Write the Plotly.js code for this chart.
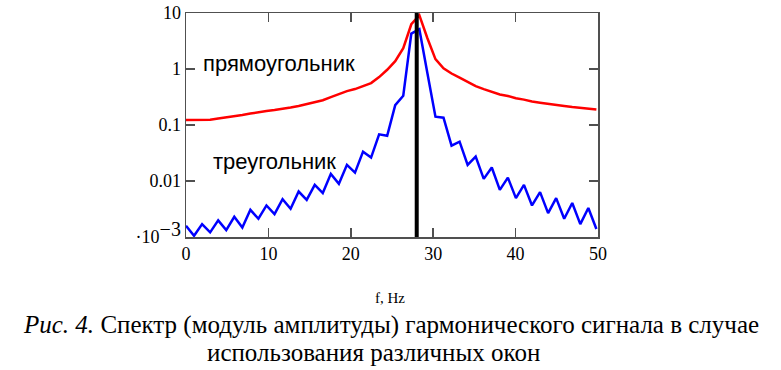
<!DOCTYPE html>
<html>
<head>
<meta charset="utf-8">
<script src="https://cdn.plot.ly/plotly-3.0.1.min.js"></script>
<style>html,body{margin:0;padding:0;background:#fff;}#chart{width:781px;height:370px;}</style>
</head>
<body>
<div id="chart"></div>
<script>
// Frequency bins (Hz)
const freq = [0, 0.977, 1.953, 2.930, 3.906, 4.883, 5.859, 6.836, 7.813, 8.789,
  9.766, 10.742, 11.719, 12.695, 13.672, 14.648, 15.625, 16.602, 17.578, 18.555,
  19.531, 20.508, 21.484, 22.461, 23.438, 24.414, 25.391, 26.367, 27.344, 28.320,
  29.297, 30.273, 31.250, 32.227, 33.203, 34.180, 35.156, 36.133, 37.109, 38.086,
  39.063, 40.039, 41.016, 41.992, 42.969, 43.945, 44.922, 45.898, 46.875, 47.852,
  48.828, 49.805];
// Rectangular window spectrum
const rectAmp = [0.123, 0.123, 0.123, 0.124, 0.131, 0.136, 0.145, 0.151, 0.160, 0.171,
  0.178, 0.185, 0.193, 0.205, 0.218, 0.237, 0.254, 0.277, 0.315, 0.357,
  0.403, 0.438, 0.495, 0.56, 0.716, 0.97, 1.38, 2.35, 6.3, 9.1,
  3.54, 1.5, 1.03, 0.83, 0.70, 0.58, 0.495, 0.438, 0.387, 0.35,
  0.33, 0.30, 0.284, 0.262, 0.25, 0.237, 0.227, 0.218, 0.209, 0.201,
  0.191, 0.189];
// Triangular window spectrum
const triAmp = [0.00159, 0.00105, 0.0017, 0.00121, 0.00198, 0.00133, 0.0023, 0.00148, 0.00306, 0.00212,
  0.00366, 0.00257, 0.00475, 0.00319, 0.00649, 0.00461, 0.00853, 0.00608, 0.0134, 0.0089,
  0.0194, 0.0141, 0.0334, 0.0262, 0.0682, 0.0644, 0.227, 0.333, 4.3, 5.13,
  0.84, 0.141, 0.135, 0.0428, 0.0504, 0.0194, 0.0273, 0.0109, 0.0174, 0.00695,
  0.0115, 0.00495, 0.00853, 0.00366, 0.00634, 0.00267, 0.00495, 0.00212, 0.00404, 0.0017,
  0.00329, 0.00139];
const signalFreq = 28;
const xTicks = [0, 10, 20, 30, 40, 50];
const yTickVals = [0.001, 0.01, 0.1, 1, 10];
const yTickText = ['·10<sup><span style="font-size:20px">−3</span></sup>', '0.01', '0.1', '1', '10'];
const labelRect = 'прямоугольник';
const labelTri = 'треугольник';
const xTitle = 'f, Hz';
const captionLine1 = '<i>Рис. 4.</i> Спектр (модуль амплитуды) гармонического сигнала в случае';
const captionLine2 = 'использования различных окон';

const axisColor = '#505050';
const serif = 'Liberation Serif';
const sans = 'Liberation Sans';

const traces = [
  {x: freq, y: rectAmp, type: 'scatter', mode: 'lines', line: {color: '#ff0000', width: 2.5}, hoverinfo: 'none'},
  {x: freq, y: triAmp, type: 'scatter', mode: 'lines', line: {color: '#0000ff', width: 2.5}, hoverinfo: 'none'}
];

const layout = {
  width: 781, height: 370,
  margin: {l: 186, r: 183, t: 13, b: 133},
  paper_bgcolor: '#fff', plot_bgcolor: '#fff',
  showlegend: false,
  xaxis: {
    range: [0, 50], tickvals: xTicks, ticks: 'inside', ticklen: 9, tickcolor: axisColor, tickwidth: 1.5,
    showline: true, linecolor: axisColor, linewidth: 1.5, mirror: 'ticks', showgrid: false, zeroline: false,
    tickfont: {family: serif, size: 18, color: '#000'}
  },
  yaxis: {
    type: 'log', range: [-3, 1], tickvals: yTickVals, ticktext: yTickText,
    ticks: 'inside', ticklen: 9, tickcolor: axisColor, tickwidth: 1.5,
    showline: true, linecolor: axisColor, linewidth: 1.5, mirror: 'ticks', showgrid: false, zeroline: false,
    tickfont: {family: serif, size: 18, color: '#000'}
  },
  shapes: [
    {type: 'line', xref: 'x', yref: 'paper', x0: signalFreq, x1: signalFreq, y0: 0, y1: 1,
     line: {color: '#000', width: 4}}
  ],
  annotations: [
    {text: labelRect, xref: 'paper', yref: 'paper', x: (201 - 186) / 412, y: (237 - 64) / 224, xanchor: 'left', yanchor: 'middle',
     showarrow: false, font: {family: sans, size: 22, color: '#000'}},
    {text: labelTri, xref: 'paper', yref: 'paper', x: (211 - 186) / 412, y: (237 - 161) / 224, xanchor: 'left', yanchor: 'middle',
     showarrow: false, font: {family: sans, size: 22, color: '#000'}},
    {text: xTitle, xref: 'paper', yref: 'paper', x: (390 - 186) / 412, y: -(298 - 237) / 224, xanchor: 'center', yanchor: 'middle',
     showarrow: false, font: {family: serif, size: 15, color: '#000'}},
    {text: captionLine1, xref: 'paper', yref: 'paper', x: (391 - 186) / 412, y: -(325 - 237) / 224, xanchor: 'center', yanchor: 'middle',
     showarrow: false, font: {family: serif, size: 25, color: '#000'}},
    {text: captionLine2, xref: 'paper', yref: 'paper', x: (373 - 186) / 412, y: -(352 - 237) / 224, xanchor: 'center', yanchor: 'middle',
     showarrow: false, font: {family: serif, size: 25, color: '#000'}}
  ]
};

Plotly.newPlot('chart', traces, layout, {staticPlot: true, displayModeBar: false});
</script>
</body>
</html>
